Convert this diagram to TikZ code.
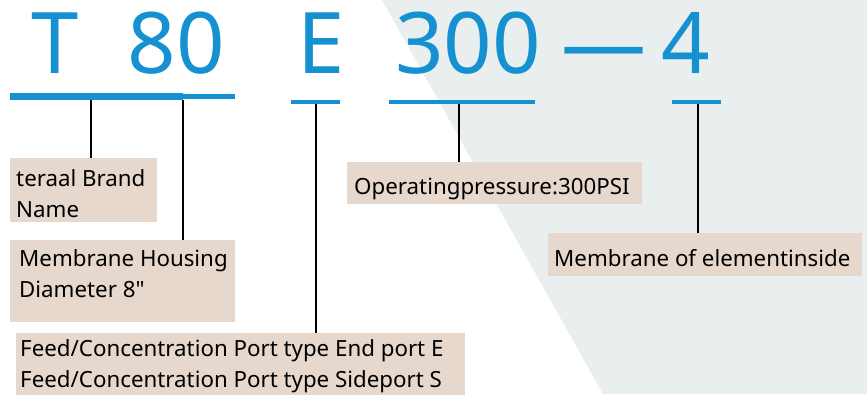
\documentclass[tikz,border=0pt]{standalone}
\usepackage{fontspec}
\setmainfont{Noto Sans}[Ligatures=TeXOff]
\usetikzlibrary{positioning}
\definecolor{codeblue}{HTML}{1590D0}
\definecolor{tagfill}{HTML}{E6D8CD}
\definecolor{panelgray}{HTML}{E9EEEF}
\tikzset{
  code/.style={text=codeblue, font=\fontsize{85}{85}\selectfont, inner sep=0, anchor=base},
  bar/.style={draw=codeblue, line width=5},
  tag/.style={fill=tagfill, inner sep=0, anchor=north west},
  tagtext/.style={font=\fontsize{22.3}{31}\selectfont, align=left, inner sep=0, anchor=base west},
  lead/.style={line width=1.6, black}
}

\begin{document}
\begin{tikzpicture}[x=1pt,y=-1pt]
\useasboundingbox (0,0) rectangle (867,394);
\fill[panelgray] (382,0) -- (867,0) -- (867,394) -- (603,394) -- cycle;

% model code
\node[code] (T) at (55.5,73) {T};
\node[code] (dia) at (176.5,73) {80};
\node[code] (port) at (321,73) {E};
\node[code] (psi) at (468,73) {300};
\node[code] (dash) at (604,73) {—};
\node[code] (mem) at (686,73) {4};

% underlines
\draw[bar, line width=7] (10,96.5) -- (183,96.5);
\draw[bar] (183,96.5) -- (235,96.5);
\draw[bar, line width=4] (291,102) -- (340,102);
\draw[bar, line width=4] (389,102) -- (535,102);
\draw[bar, line width=4] (672,102) -- (721,102);
\coordinate (u1) at (91,100);
\coordinate (u2) at (183,100);
\coordinate (u3) at (316,104);
\coordinate (u4) at (459,104);
\coordinate (u5) at (698,104);

% tags
\node[tag, minimum width=147, minimum height=64] (brand) at (10,158) {};
\node[tag, minimum width=225, minimum height=82] (housing) at (10,240) {};
\node[tag, minimum width=449, minimum height=62] (feed) at (16,333) {};
\node[tag, minimum width=295, minimum height=42] (press) at (347,162) {};
\node[tag, minimum width=314, minimum height=43] (inside) at (548,233) {};

% last baselines (base anchor sits on the last line)
\node[tagtext] (brandtxt) at (16,217) {teraal Brand\\Name};
\node[tagtext] (housingtxt) at (19,297) {Membrane Housing\\Diameter 8"};
\node[tagtext] (feedtxt) at (20,387) {Feed/Concentration Port type End port E\\Feed/Concentration Port type Sideport S};
\node[tagtext] (presstxt) at (354,194) {Operatingpressure:300PSI};
\node[tagtext] (insidetxt) at (554,266) {Membrane of elementinside};

% leads
\draw[lead] (u1) -- (u1 |- brand.north);
\draw[lead] (u2) -- (u2 |- housing.north);
\draw[lead] (u3) -- (u3 |- feed.north);
\draw[lead] (u4) -- (u4 |- press.north);
\draw[lead] (u5) -- (u5 |- inside.north);
\end{tikzpicture}
\end{document}
